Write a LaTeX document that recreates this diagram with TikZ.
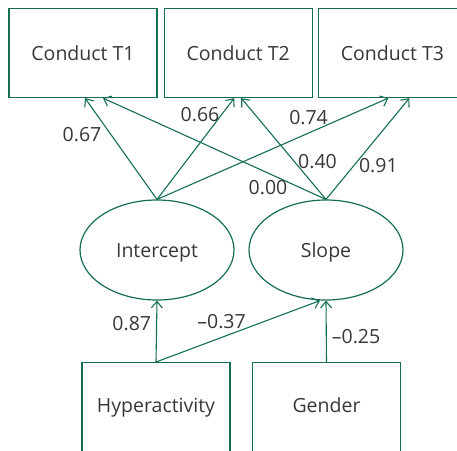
\documentclass[tikz,border=0pt]{standalone}
\usepackage{fontspec}
\setmainfont{Open Sans}
\usepackage{tikz}
\usetikzlibrary{arrows.meta}
\usetikzlibrary{positioning}
\usetikzlibrary{shapes.geometric}
\definecolor{pathgreen}{RGB}{20,110,85}
\definecolor{labelgray}{RGB}{55,55,55}
\def\labelfont{\fontsize{19.5}{23}\selectfont}

\begin{document}
\begin{tikzpicture}[x=1pt, y=-1pt]

    \tikzstyle{observed}   = [draw=pathgreen, line width=1.2pt, rectangle, minimum width=148pt, minimum height=89pt, inner sep=0pt, text=labelgray, font=\labelfont, text height=14pt, text depth=0pt];
    \tikzstyle{predictor}  = [observed, minimum height=0pt, text height=50pt, text depth=60pt, anchor=north];
    \tikzstyle{latent}     = [draw=pathgreen, line width=1.2pt, ellipse, minimum width=154pt, minimum height=100pt, inner sep=0pt, text=labelgray, font=\labelfont, text height=14pt, text depth=0pt];
    \tikzstyle{path-arrow} = [draw=pathgreen, line width=1.1pt, -{Straight Barb[length=6.5pt, width=11pt]}];
    \tikzstyle{coef}       = [text=labelgray, font=\labelfont, inner sep=1pt, text height=14pt, text depth=0pt];

    \path[use as bounding box, clip] (0,0) rectangle (457,450);

    %
    % Repeated measures
    %
    \node[observed] (cond-t1) at (83,53)           {Conduct T1};
    \node[observed] (cond-t2) [right=6pt of cond-t1] {Conduct T2};
    \node[observed] (cond-t3) [right=5pt of cond-t2] {Conduct T3};

    %
    % Growth factors
    %
    \node[latent] (intercept) at (157,250) {Intercept};
    \node[latent] (slope)     at (326,250) {Slope};

    %
    % Covariates
    %
    \node[predictor] (hyper)  at (156,362)   {Hyperactivity};
    \node[predictor] (gender) at (326.5,362) {Gender};

    % Loadings
    \draw[path-arrow] (intercept.north) -- ([xshift=2pt]cond-t1.south)
        node[coef, pos=.64, left=8pt] {0.67};
    \draw[path-arrow] (intercept.north) -- ([xshift=-4pt]cond-t2.south)
        node[coef, pos=.84, left=1pt] {0.66};
    \draw[path-arrow] (intercept.north) -- ([xshift=-4pt]cond-t3.south)
        node[coef, pos=.655, above=7pt] {0.74};
    \draw[path-arrow] (slope.north) -- ([xshift=20pt]cond-t1.south)
        node[coef, pos=.26, below=6pt] {0.00};
    \draw[path-arrow] (slope.north) -- ([xshift=3pt]cond-t2.south)
        node[coef, pos=.37, right=2pt] {0.40};
    \draw[path-arrow] (slope.north) -- ([xshift=17pt]cond-t3.south)
        node[coef, pos=.33, right=4pt] {0.91};

    % Regressions
    \draw[path-arrow] (hyper.north) -- (intercept.south)
        node[coef, pos=.62, left=4pt] {0.87};
    \draw[path-arrow] (hyper.north) -- ([xshift=-6pt]slope.south)
        node[coef, pos=.4, above=7pt] {–0.37};
    \draw[path-arrow] (gender.north) -- (slope.south)
        node[coef, pos=.42, right=4pt] {–0.25};
\end{tikzpicture}
\end{document}
